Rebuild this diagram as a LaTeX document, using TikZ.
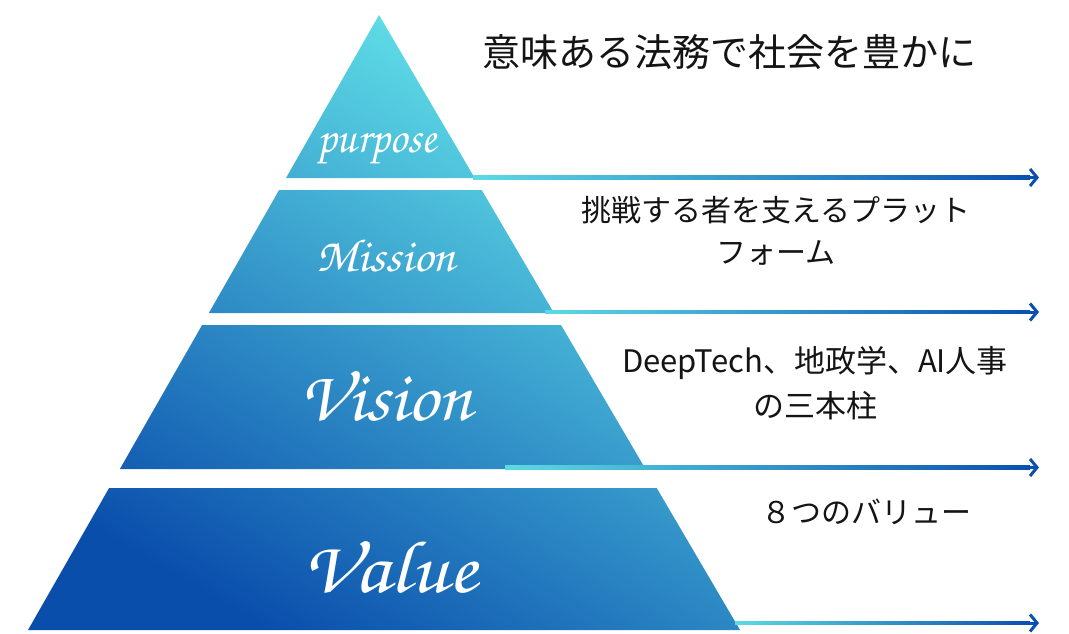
\documentclass[tikz,border=0pt]{standalone}
\usepackage[T1,TU]{fontenc}
\usepackage{fontspec}
\usepackage{graphicx}
\newfontfamily\jp{Noto Sans CJK JP}
\usetikzlibrary{arrows.meta,calc}
\newcommand\scriptf{\fontencoding{T1}\fontfamily{pzc}\fontseries{mb}\fontshape{it}\selectfont}
\definecolor{pyrdark}{RGB}{10,78,172}
\definecolor{pyrlight}{RGB}{102,234,236}
\definecolor{arrcyan}{RGB}{92,218,228}
\definecolor{arrblue}{RGB}{10,80,176}
\definecolor{txt}{RGB}{20,20,20}
\tikzset{
  jptext/.style={text=txt, align=center, inner sep=0pt},
  lbl/.style={text=white, inner sep=0pt},
  arrline/.style={left color=arrcyan, right color=arrblue, draw=none},
  arrtip/.style={draw=arrblue, line width=3pt, -{Straight Barb[length=7pt,width=17pt]}},
}
\begin{document}
\begin{tikzpicture}[x=1pt,y=-1pt]
\useasboundingbox (0,0) rectangle (1069,634);
\fill[white] (0,0) rectangle (1069,634);
% pyramid layers (one shaded path, gaps left white)
\shade[bottom color=pyrdark, top color=pyrlight, shading angle=-30]
  (379,15) -- (474.7,178) -- (286.0,178) -- cycle
  (279.1,190) -- (481.7,190) -- (553.9,313) -- (208.9,313) -- cycle
  (202.1,325) -- (561.0,325) -- (645.5,469) -- (119.9,469) -- cycle
  (109.1,488) -- (656.7,488) -- (740,630) -- (28,630) -- cycle;
% layer labels
\node[lbl] (purpose) at (377,150) {\resizebox*{119pt}{34pt}{\scriptf purpose}};
\node[lbl] (mission) at (386,255) {\resizebox*{139pt}{34pt}{\scriptf Mission}};
\node[lbl] (vision) at (386,396) {\resizebox*{173pt}{52pt}{\scriptf Vision}};
\node[lbl] (value) at (390,567) {\resizebox*{175pt}{54pt}{\scriptf Value}};
% arrows
\foreach \yy/\xs [count=\i] in {177.5/473, 312/545, 467.5/505, 623/735}{
  \coordinate (s\i) at (\xs,\yy);
  \coordinate (e\i) at (1030,\yy);
  \coordinate (t\i) at (1039,\yy);
  \shade[arrline] ($(s\i)+(0,-1.7)$) rectangle ($(e\i)+(0,1.7)$);
  \draw[arrtip] (e\i) -- (t\i);
}
% texts
\node[jptext, font=\jp\fontsize{38}{44}\selectfont] (t1) at (729,52) {意味ある法務で社会を豊かに};
\node[jptext, font=\jp\fontsize{30}{42}\selectfont] (t2) at (776,231) {挑戦する者を支えるプラット\\フォーム};
\node[jptext, font=\jp\fontsize{31}{45}\selectfont] (t3) at (815,383) {DeepTech、地政学、AI人事\\の三本柱};
\node[jptext, font=\jp\fontsize{30}{36}\selectfont] (t4) at (866,512) {８つのバリュー};
\end{tikzpicture}
\end{document}
